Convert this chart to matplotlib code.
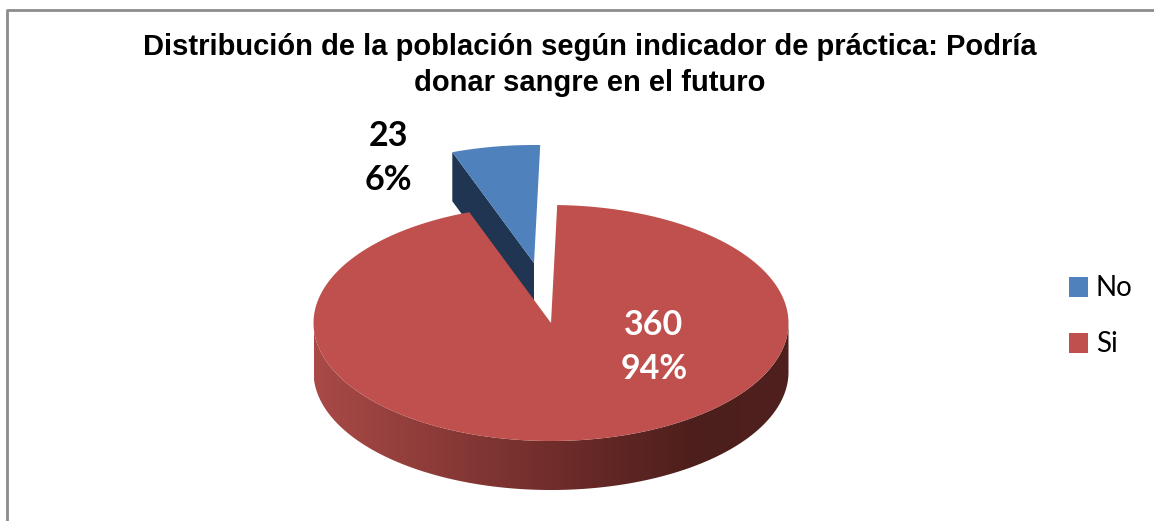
"""3D-style exploded pie: Podria donar sangre en el futuro."""

import numpy as np
import matplotlib.pyplot as plt
from matplotlib.colors import LinearSegmentedColormap
from matplotlib.patches import Patch, Polygon


# ── Data ──────────────────────────────────────────────────────
labels = ["No", "Si"]
counts = [23, 360]
percent_labels = ["6%", "94%"]
title = ("Distribución de la población según indicador de práctica: Podría\n"
         "donar sangre en el futuro")

# ── Geometry, in reference pixels ─────────────────────────────
CX, CY = 551, 323
RX, RY = 237.5, 118
DEPTH = 49
START_DEG = 1.5            # clockwise from 12 o'clock
BLUE_SHIFT = (-17, -60)    # explode offset of the "No" slice

BLUE, BLUE_DARK = "#4F81BD", "#1F3551"
RED = "#BF504D"
side_cmap = LinearSegmentedColormap.from_list(
    "side", [(0, "#A94A47"), (0.5, "#702D2B"), (0.8, "#4D1F1C"), (1, "#4F201E")])


def rim(a0, a1, cx=CX, cy=CY, n=200):
    """Ellipse points between two clockwise-from-top angles (degrees)."""
    t = np.radians(np.linspace(a0, a1, n))
    return np.column_stack([cx + RX * np.sin(t), cy - RY * np.cos(t)])


fig = plt.figure(figsize=(11.54, 5.21), dpi=100)
ax = fig.add_axes([0, 0, 1, 1])

# slice angles come from the counts
sweep = 360 * counts[0] / sum(counts)
no_a0, no_a1 = START_DEG - sweep, START_DEG
si_a0, si_a1 = START_DEG, START_DEG + 360 - sweep

# "No" slice, moved out of the pie
bx, by = CX + BLUE_SHIFT[0], CY + BLUE_SHIFT[1]
no_top = np.vstack([[bx, by], rim(no_a0, no_a1, bx, by)])
left_corner = no_top[1]
no_wall = np.array([left_corner, [bx, by], [bx, by + DEPTH],
                    left_corner + [0, DEPTH]])
ax.add_patch(Polygon(no_wall, closed=True, fc=BLUE_DARK, ec="none", zorder=1))
ax.add_patch(Polygon(no_top, closed=True, fc=BLUE, ec="none", zorder=2))

# front wall of the "Si" slice with its horizontal shading
front = rim(90, 270)
wall = np.vstack([front + [0, DEPTH], front[::-1]])
wall_patch = Polygon(wall, closed=True, fc="none", ec="none",
                     transform=ax.transData)
ax.add_patch(wall_patch)
img = ax.imshow(np.linspace(0, 1, 256)[None, :], cmap=side_cmap, aspect="auto",
                extent=(CX - RX, CX + RX, CY + RY + DEPTH, CY), zorder=3)
img.set_clip_path(wall_patch)

# "Si" top face
si_top = np.vstack([[CX, CY], rim(si_a0, si_a1)])
ax.add_patch(Polygon(si_top, closed=True, fc=RED, ec="none", zorder=4))

ax.set_xlim(0, 1154)
ax.set_ylim(521, 0)
ax.axis("off")

# chart frame, open on the right and at the bottom
ax.plot([6.5, 6.5, 1154], [521, 10, 10], color="#8C8C8C", lw=2, zorder=5)

ax.text(590, 65, title, ha="center", va="center", fontsize=21, linespacing=1.37,
        fontweight="bold", family="Liberation Sans", color="black", zorder=6)

# data labels
lab_font = dict(ha="center", va="center", fontsize=24.5, fontweight="bold",
                family="Lato", zorder=6)
ax.text(388, 136, str(counts[0]), color="black", **lab_font)
ax.text(388, 180, percent_labels[0], color="black", **lab_font)
ax.text(654, 325, str(counts[1]), color="white", **lab_font)
ax.text(654, 369, percent_labels[1], color="white", **lab_font)

# legend
handles = [Patch(fc=BLUE, ec="none"), Patch(fc=RED, ec="none")]
ax.legend(handles, labels, loc="center left", bbox_to_anchor=(1069, 316.5),
          bbox_transform=ax.transData, frameon=False, handlelength=0.7,
          handleheight=0.7, handletextpad=0.27, labelspacing=1.08,
          borderpad=0, borderaxespad=0,
          prop={"family": "Lato", "size": 20})

fig.savefig("out.png", dpi=100)
